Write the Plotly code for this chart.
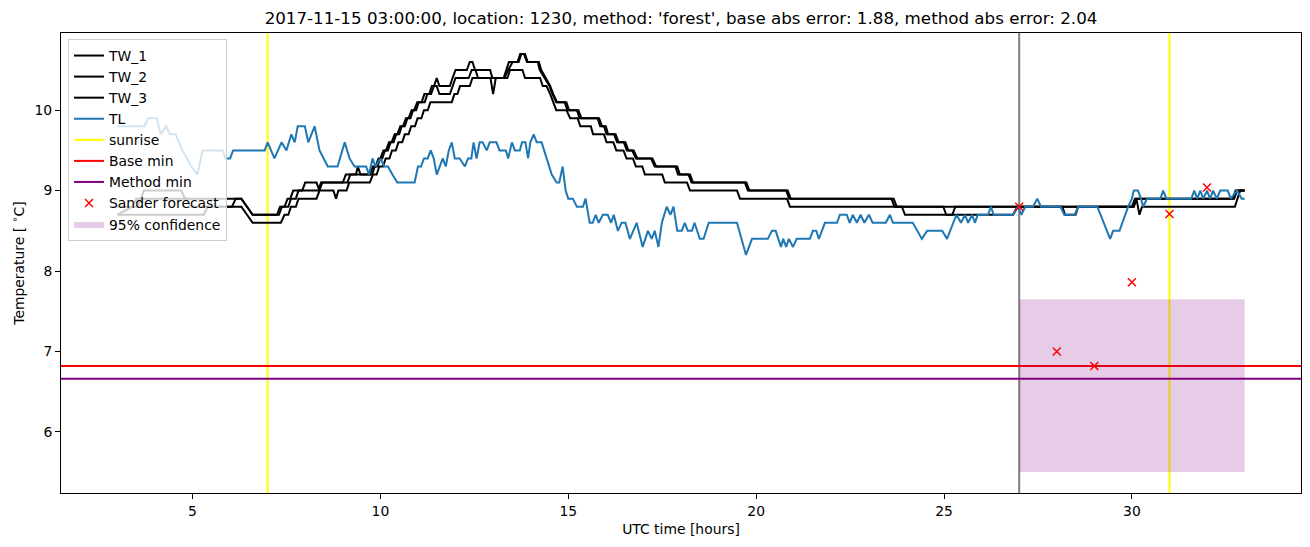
import plotly.graph_objects as go

TITLE = "2017-11-15 03:00:00, location: 1230, method: 'forest', base abs error: 1.88, method abs error: 2.04"

# ---------------- data (hours UTC, temperature in degC) ----------------
tw1_hours = [3.00, 3.55, 3.70, 4.70, 4.80, 6.30, 6.45, 6.60, 7.25, 7.33, 7.45, 7.53, 7.60, 7.68, 7.92, 8.00,
             8.30, 8.38, 8.45, 9.00, 9.08, 9.35, 9.40, 9.47, 9.72, 9.80, 9.87, 9.95, 10.00, 10.08, 10.15,
             10.23, 10.30, 10.38, 10.45, 10.53, 10.60, 10.68, 10.75, 10.83, 10.90, 10.98, 11.18, 11.25,
             11.35, 11.42, 11.50, 11.57, 11.85, 11.92, 12.00, 12.30, 12.38, 12.45, 12.52, 12.92, 12.98,
             13.28, 13.35, 13.42, 13.65, 13.72, 13.85, 13.92, 14.19, 14.24, 14.37, 14.50, 14.58, 14.68,
             14.90, 14.98, 15.23, 15.30, 15.78, 15.85, 15.95, 16.02, 16.22, 16.30, 16.48, 16.56, 16.70,
             16.80, 17.20, 17.30, 17.85, 17.92, 18.20, 18.28, 19.70, 19.78, 20.80, 20.88, 23.60, 23.68,
             30.00, 30.08, 32.68, 32.76, 33.00]
tw1_temp = [8.8, 8.8, 9.0, 9.0, 8.9, 8.9, 8.8, 8.7, 8.7, 8.8, 8.8, 8.9, 8.9, 9.0, 9.0, 9.1,
            9.1, 9.0, 9.1, 9.1, 9.2, 9.2, 9.3, 9.2, 9.2, 9.3, 9.3, 9.4, 9.4, 9.5, 9.5,
            9.6, 9.6, 9.7, 9.7, 9.8, 9.8, 9.9, 9.9, 10.0, 10.0, 10.1, 10.1, 10.2,
            10.2, 10.3, 10.4, 10.3, 10.3, 10.4, 10.5, 10.5, 10.6, 10.6, 10.5, 10.5, 10.4,
            10.4, 10.5, 10.6, 10.6, 10.7, 10.7, 10.6, 10.6, 10.5, 10.4, 10.3, 10.2, 10.1,
            10.1, 10.0, 10.0, 9.9, 9.9, 9.8, 9.8, 9.7, 9.7, 9.6, 9.6, 9.5, 9.5,
            9.4, 9.4, 9.3, 9.3, 9.2, 9.2, 9.1, 9.1, 9.0, 9.0, 8.9, 8.9, 8.8,
            8.8, 8.9, 8.9, 9.0, 9.0]

tw2_hours = [3.00, 3.40, 3.50, 4.85, 4.95, 6.05, 6.15, 6.30, 6.45, 6.60, 7.30, 7.38, 7.55, 7.62, 7.75, 7.82,
             8.35, 8.42, 9.12, 9.20, 9.78, 9.85, 9.92, 10.00, 10.05, 10.12, 10.20, 10.27, 10.35, 10.42,
             10.50, 10.57, 10.65, 10.72, 10.80, 10.87, 10.95, 11.02, 11.10, 11.17, 11.30, 11.37, 11.50,
             11.57, 11.85, 11.93, 12.00, 12.35, 12.43, 12.53, 12.60, 12.93, 13.00, 13.07, 13.30, 13.40,
             13.52, 13.68, 13.75, 13.82, 13.90, 14.22, 14.28, 14.40, 14.52, 14.60, 14.70, 14.95, 15.02,
             15.27, 15.35, 15.82, 15.90, 16.00, 16.06, 16.26, 16.34, 16.52, 16.60, 16.74, 16.84, 17.24,
             17.34, 17.90, 17.97, 18.24, 18.32, 19.74, 19.82, 20.84, 20.92, 23.66, 23.74, 24.98, 25.06,
             25.22, 25.30, 30.05, 30.12, 32.72, 32.80, 33.00]
tw2_temp = [8.7, 8.8, 8.9, 8.9, 8.8, 8.8, 8.9, 8.9, 8.8, 8.7, 8.7, 8.8, 8.8, 8.9, 8.9, 9.0,
            9.0, 9.1, 9.1, 9.2, 9.2, 9.3, 9.3, 9.4, 9.4, 9.5, 9.5, 9.6, 9.6, 9.7,
            9.7, 9.8, 9.8, 9.9, 9.9, 10.0, 10.0, 10.1, 10.1, 10.2, 10.2, 10.3, 10.3,
            10.2, 10.2, 10.3, 10.4, 10.4, 10.5, 10.5, 10.4, 10.4, 10.2, 10.4, 10.4, 10.5,
            10.6, 10.6, 10.7, 10.7, 10.6, 10.6, 10.5, 10.4, 10.3, 10.2, 10.1, 10.1, 10.0,
            10.0, 9.9, 9.9, 9.8, 9.8, 9.7, 9.7, 9.6, 9.6, 9.5, 9.5, 9.4, 9.4,
            9.3, 9.3, 9.2, 9.2, 9.1, 9.1, 9.0, 9.0, 8.9, 8.9, 8.8, 8.8, 8.7,
            8.7, 8.8, 8.8, 8.9, 8.9, 9.0, 9.0]

tw3_hours = [3.00, 5.30, 5.40, 6.30, 6.45, 6.60, 7.35, 7.45, 7.55, 7.62, 7.75, 7.82, 8.30, 8.38, 8.75, 8.82,
             8.88, 9.10, 9.17, 9.72, 9.80, 9.90, 9.97, 10.07, 10.14, 10.24, 10.31, 10.41, 10.48, 10.58,
             10.65, 10.75, 10.82, 10.92, 10.99, 11.09, 11.16, 11.26, 11.33, 11.90, 11.97, 12.05, 12.12,
             12.38, 12.45, 13.38, 13.45, 13.78, 13.85, 14.25, 14.32, 14.42, 14.52, 14.60, 14.68, 14.95,
             15.05, 15.25, 15.32, 15.60, 15.66, 15.95, 16.02, 16.20, 16.28, 16.47, 16.55, 16.72, 16.80,
             16.97, 17.04, 17.50, 17.57, 18.16, 18.24, 19.49, 19.57, 20.82, 20.90, 23.88, 23.96, 26.84,
             26.95, 28.15, 28.22, 28.50, 28.57, 30.05, 30.12, 30.20, 30.27, 32.74, 32.88, 33.00]
tw3_temp = [8.7, 8.7, 8.8, 8.8, 8.7, 8.6, 8.6, 8.7, 8.7, 8.8, 8.8, 8.9, 8.9, 9.0, 9.0, 8.9,
            9.0, 9.0, 9.1, 9.1, 9.2, 9.2, 9.3, 9.3, 9.4, 9.4, 9.5, 9.5, 9.6, 9.6,
            9.7, 9.7, 9.8, 9.8, 9.9, 9.9, 10.0, 10.0, 10.1, 10.1, 10.2, 10.2, 10.3,
            10.3, 10.4, 10.4, 10.5, 10.5, 10.4, 10.4, 10.3, 10.3, 10.2, 10.1, 10.0, 10.0,
            9.9, 9.9, 9.8, 9.8, 9.7, 9.7, 9.6, 9.6, 9.5, 9.5, 9.4, 9.4, 9.3,
            9.3, 9.2, 9.2, 9.1, 9.1, 9.0, 9.0, 8.9, 8.9, 8.8, 8.8, 8.7, 8.7,
            8.8, 8.8, 8.7, 8.7, 8.8, 8.8, 8.9, 8.7, 8.8, 8.8, 9.0, 9.0]

tl_hours = [3.00, 3.72, 3.82, 4.05, 4.15, 4.30, 4.40, 4.55, 4.73, 4.97, 5.13, 5.27, 5.80, 5.88, 6.00, 6.08,
            6.92, 7.00, 7.18, 7.37, 7.50, 7.63, 7.72, 7.80, 7.99, 8.08, 8.25, 8.38, 8.60, 8.86, 9.05,
            9.18, 9.31, 9.62, 9.70, 9.79, 9.87, 10.00, 10.10, 10.20, 10.32, 10.45, 10.91, 11.00, 11.08,
            11.16, 11.26, 11.34, 11.42, 11.50, 11.66, 11.74, 11.82, 11.90, 11.98, 12.11, 12.25, 12.33,
            12.42, 12.48, 12.56, 12.64, 12.72, 12.83, 12.91, 13.09, 13.17, 13.34, 13.40, 13.50, 13.58,
            13.71, 13.77, 13.86, 13.93, 13.99, 14.08, 14.16, 14.29, 14.42, 14.56, 14.69, 14.76, 14.85,
            14.93, 15.00, 15.12, 15.23, 15.39, 15.46, 15.57, 15.65, 15.73, 15.81, 15.92, 16.05, 16.14,
            16.21, 16.32, 16.42, 16.52, 16.64, 16.82, 16.98, 17.12, 17.22, 17.30, 17.40, 17.49, 17.62,
            17.72, 17.80, 17.90, 18.02, 18.10, 18.18, 18.29, 18.36, 18.50, 18.60, 18.74, 19.49, 19.62,
            19.73, 19.89, 20.31, 20.42, 20.52, 20.66, 20.72, 20.80, 20.87, 20.98, 21.08, 21.43, 21.51,
            21.60, 21.67, 21.83, 22.15, 22.23, 22.41, 22.49, 22.57, 22.68, 22.78, 22.88, 23.00, 23.10,
            23.45, 23.56, 23.64, 24.17, 24.41, 24.55, 24.95, 25.08, 25.25, 25.33, 25.45, 25.56, 25.64,
            25.75, 25.82, 25.90, 26.17, 26.25, 26.32, 26.84, 26.97, 27.06, 27.16, 27.37, 27.48, 27.58,
            28.10, 28.20, 28.48, 28.57, 29.08, 29.42, 29.50, 29.67, 29.90, 30.00, 30.05, 30.16, 30.24,
            30.30, 30.40, 30.76, 30.83, 30.92, 31.58, 31.66, 31.74, 31.82, 31.90, 32.00, 32.08, 32.16,
            32.26, 32.35, 32.55, 32.63, 32.80, 32.92, 33.00]
tl_temp = [9.8, 9.8, 9.9, 9.9, 9.7, 9.8, 9.7, 9.7, 9.5, 9.3, 9.2, 9.5, 9.5, 9.4, 9.4, 9.5,
           9.5, 9.6, 9.4, 9.6, 9.5, 9.7, 9.6, 9.8, 9.8, 9.6, 9.8, 9.5, 9.3, 9.3, 9.6,
           9.4, 9.3, 9.3, 9.2, 9.4, 9.3, 9.4, 9.3, 9.3, 9.2, 9.1, 9.1, 9.3, 9.3,
           9.4, 9.4, 9.5, 9.4, 9.2, 9.4, 9.3, 9.5, 9.6, 9.4, 9.4, 9.3, 9.4,
           9.4, 9.6, 9.4, 9.6, 9.6, 9.5, 9.6, 9.6, 9.5, 9.5, 9.4, 9.6, 9.5,
           9.5, 9.6, 9.6, 9.4, 9.6, 9.7, 9.6, 9.6, 9.4, 9.2, 9.1, 9.1, 9.3,
           9.0, 8.9, 8.9, 8.8, 8.8, 8.9, 8.6, 8.6, 8.7, 8.6, 8.7, 8.7, 8.6,
           8.7, 8.5, 8.6, 8.6, 8.4, 8.6, 8.3, 8.5, 8.4, 8.5, 8.3, 8.6, 8.8,
           8.7, 8.8, 8.5, 8.5, 8.6, 8.5, 8.5, 8.6, 8.4, 8.4, 8.6, 8.6, 8.4,
           8.2, 8.4, 8.4, 8.5, 8.5, 8.3, 8.4, 8.3, 8.4, 8.3, 8.4, 8.4, 8.5,
           8.5, 8.4, 8.6, 8.6, 8.7, 8.7, 8.6, 8.7, 8.6, 8.7, 8.6, 8.7, 8.6,
           8.6, 8.7, 8.6, 8.6, 8.4, 8.5, 8.5, 8.4, 8.6, 8.7, 8.6, 8.7, 8.6,
           8.7, 8.6, 8.7, 8.7, 8.8, 8.7, 8.7, 8.8, 8.7, 8.8, 8.8, 8.9, 8.8,
           8.8, 8.7, 8.7, 8.8, 8.8, 8.4, 8.5, 8.5, 8.8, 8.9, 9.0, 9.0, 8.9,
           8.8, 8.9, 8.9, 9.0, 8.9, 8.9, 9.0, 8.9, 9.0, 8.9, 9.0, 8.9, 9.0,
           8.9, 9.0, 9.0, 8.9, 9.0, 8.9, 8.9]

sunrise_hours = [7, 31]
forecast_start_hour = 27
base_min = 6.82
method_min = 6.66
forecast_hours = [27, 28, 29, 30, 31, 32]
forecast_temp = [8.8, 7.0, 6.82, 7.86, 8.71, 9.04]
conf_hours = [27, 33]
conf_lower = [5.5, 5.5]
conf_upper = [7.65, 7.65]
x_ticks = [5, 10, 15, 20, 25, 30]
y_ticks = [6, 7, 8, 9, 10]

# ---------------- styling ----------------
FONT = "DejaVu Sans"
C_TL = "#1f77b4"
C_FILL = "rgba(128,0,128,0.2)"

# autoscale like matplotlib (5% margins)
all_x = tw1_hours + tw2_hours + tw3_hours + tl_hours + forecast_hours + conf_hours
all_y = tw1_temp + tw2_temp + tw3_temp + tl_temp + forecast_temp + conf_lower + conf_upper
xmin, xmax = min(all_x), max(all_x)
ymin, ymax = min(all_y), max(all_y)
xr = [xmin - 0.05 * (xmax - xmin), xmax + 0.05 * (xmax - xmin)]
yr = [ymin - 0.05 * (ymax - ymin), ymax + 0.05 * (ymax - ymin)]

fig = go.Figure()

# confidence band (bottom layer)
fig.add_trace(go.Scatter(x=conf_hours, y=conf_lower, mode="lines", line=dict(width=0, color=C_FILL),
                         showlegend=False, hoverinfo="skip"))
fig.add_trace(go.Scatter(x=conf_hours, y=conf_upper, mode="lines", line=dict(width=0, color=C_FILL),
                         fill="tonexty", fillcolor=C_FILL, name="95% confidence", legendrank=9))

for i, (hx, ty) in enumerate([(tw1_hours, tw1_temp), (tw2_hours, tw2_temp), (tw3_hours, tw3_temp)]):
    fig.add_trace(go.Scatter(x=hx, y=ty, mode="lines", line=dict(color="black", width=2),
                             name=f"TW_{i + 1}", legendrank=i + 1))

fig.add_trace(go.Scatter(x=tl_hours, y=tl_temp, mode="lines", line=dict(color=C_TL, width=2),
                         name="TL", legendrank=4))

# legend proxies for reference lines
for nm, col, rk in [("sunrise", "yellow", 5), ("Base min", "red", 6), ("Method min", "purple", 7)]:
    fig.add_trace(go.Scatter(x=[None], y=[None], mode="lines", line=dict(color=col, width=2),
                             name=nm, legendrank=rk))

fig.add_trace(go.Scatter(x=forecast_hours, y=forecast_temp, mode="markers", name="Sander forecast",
                         marker=dict(symbol="x-thin", size=8, color="red", line=dict(color="red", width=1.5)),
                         legendrank=8))

shapes = []
for h in sunrise_hours:
    shapes.append(dict(type="line", xref="x", yref="paper", x0=h, x1=h, y0=0, y1=1,
                       line=dict(color="yellow", width=2), layer="below"))
shapes.append(dict(type="line", xref="x", yref="paper", x0=forecast_start_hour, x1=forecast_start_hour,
                   y0=0, y1=1, line=dict(color="gray", width=2), layer="below"))
shapes.append(dict(type="line", xref="paper", yref="y", x0=0, x1=1, y0=base_min, y1=base_min,
                   line=dict(color="red", width=2), layer="below"))
shapes.append(dict(type="line", xref="paper", yref="y", x0=0, x1=1, y0=method_min, y1=method_min,
                   line=dict(color="purple", width=2), layer="below"))

W, H = 1310, 547
ML, MR, MT, MB = 61, 9, 33, 54

fig.update_layout(
    width=W, height=H,
    margin=dict(l=ML, r=MR, t=MT, b=MB, pad=0),
    paper_bgcolor="white", plot_bgcolor="white",
    font=dict(family=FONT, size=13.9, color="black"),
    title=dict(text=TITLE, font=dict(family=FONT, size=16.7, color="black"),
               x=(ML + (W - ML - MR) / 2) / W, xanchor="center",
               y=1 - 18 / H, yanchor="middle", xref="container", yref="container"),
    shapes=shapes,
    showlegend=True,
    legend=dict(x=7 / (W - ML - MR), y=1 - 6 / (H - MT - MB), xanchor="left", yanchor="top",
                traceorder="normal",
                bgcolor="rgba(255,255,255,0.8)", bordercolor="#cccccc", borderwidth=1,
                font=dict(family=FONT, size=13.9, color="black"), itemwidth=30,
                tracegroupgap=0),
)

fig.update_xaxes(range=xr, tickvals=x_ticks, ticktext=[str(v) for v in x_ticks],
                 showgrid=False, zeroline=False, showline=True, mirror=True, linecolor="black",
                 linewidth=1, ticks="outside", ticklen=5, tickwidth=1, tickcolor="black",
                 title=dict(text="UTC time [hours]", font=dict(family=FONT, size=13.9), standoff=6))
fig.update_yaxes(range=yr, tickvals=y_ticks, ticktext=[str(v) for v in y_ticks],
                 showgrid=False, zeroline=False, showline=True, mirror=True, linecolor="black",
                 linewidth=1, ticks="outside", ticklen=5, tickwidth=1, tickcolor="black",
                 title=dict(text="Temperature [ <sup>∘</sup>C]", font=dict(family=FONT, size=13.9),
                            standoff=6))

fig.write_html("out.html")
